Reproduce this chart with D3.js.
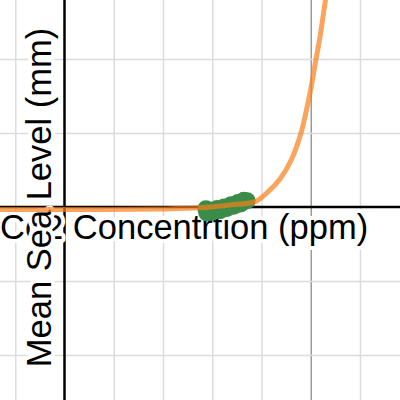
<!DOCTYPE html>
<html>
<head>
<meta charset="utf-8">
<script src="https://cdn.jsdelivr.net/npm/d3@7"></script>
<style>
  html, body { margin: 0; padding: 0; background: #fff; }
  svg { display: block; }
</style>
</head>
<body>
<div id="chart"></div>
<script>
// ---- data ----
const xTicks = [-100, 100, 200, 300, 400, 500, 600];   // gridlines (ppm)
const xMajorTicks = [500];
const yTicks = [-2000, -1000, 1000, 2000];             // gridlines (mm)

// observed CO2 concentration (ppm) and mean sea level (mm)
const pointCo2 = [287, 289, 296, 300, 310, 316, 324, 330, 338, 344, 352, 358, 364, 371];
const pointSea = [-25, -80, -40, -70, -20, -50, 0, -20, 30, 10, 60, 40, 90, 85];

// fitted curve
const curveCo2 = [-131, 72, 194, 275, 336, 387, 413, 437.6, 461.3, 480.2, 490.4, 500.5, 510.7, 518.8, 526.9, 535];
const curveSea = [-34, -34, -27, -11, 27, 72, 203, 378, 649, 1000, 1284, 1608, 2000, 2297, 2662, 3041];

const xLabel = "Co2 Concentrtion (ppm)";
const yLabel = "Mean Sea Level (mm)";

// ---- layout ----
const W = 400, H = 400;
const x0 = 64.5, xStep = 49.25;   // px of origin, px per 100 ppm
const y0 = 207, yStep = 74;       // px of origin, px per 1000 mm

const x = d3.scaleLinear()
  .domain([-x0 / xStep * 100, (W - x0) / xStep * 100])
  .range([0, W]);
const y = d3.scaleLinear()
  .domain([(y0 - H) / yStep * 1000, y0 / yStep * 1000])
  .range([H, 0]);

const svg = d3.select("#chart").append("svg")
  .attr("width", W).attr("height", H);

// grid via axes
const gx = svg.append("g")
  .attr("transform", `translate(0,${H})`)
  .call(d3.axisBottom(x).tickValues(xTicks).tickSize(-H).tickFormat(""));
gx.select(".domain").remove();
gx.selectAll(".tick line")
  .attr("stroke", d => xMajorTicks.includes(d) ? "#9a9a9a" : "#dcdcdc")
  .attr("stroke-width", 1.5);

const gy = svg.append("g")
  .call(d3.axisLeft(y).tickValues(yTicks).tickSize(-W).tickFormat(""));
gy.select(".domain").remove();
gy.selectAll(".tick line").attr("stroke", "#dcdcdc").attr("stroke-width", 1.5);

// main axes
svg.append("line")
  .attr("x1", 0).attr("x2", W).attr("y1", y(0)).attr("y2", y(0))
  .attr("stroke", "#000").attr("stroke-width", 2.5);
svg.append("line")
  .attr("x1", x(0)).attr("x2", x(0)).attr("y1", 0).attr("y2", H)
  .attr("stroke", "#000").attr("stroke-width", 2.5);

// axis labels with white halo
const font = "'Liberation Sans', Arial, Helvetica, sans-serif";
svg.append("text")
  .attr("x", 0).attr("y", 238.5)
  .attr("font-family", font).attr("font-size", 34.5)
  .attr("fill", "#000")
  .attr("stroke", "#fff").attr("stroke-width", 8).attr("stroke-linejoin", "round")
  .attr("paint-order", "stroke")
  .text(xLabel);

svg.append("text")
  .attr("transform", "translate(50.5,197.5) rotate(-90)")
  .attr("text-anchor", "middle")
  .attr("font-family", font).attr("font-size", 34.5)
  .attr("fill", "#000")
  .attr("stroke", "#fff").attr("stroke-width", 8).attr("stroke-linejoin", "round")
  .attr("paint-order", "stroke")
  .text(yLabel);

// data points
svg.append("g").selectAll("circle")
  .data(pointCo2.map((c, i) => [c, pointSea[i]]))
  .join("circle")
  .attr("cx", d => x(d[0])).attr("cy", d => y(d[1]))
  .attr("r", 8.5)
  .attr("fill", "#3a8d48");

// fitted curve
const line = d3.line()
  .x(d => x(d[0])).y(d => y(d[1]))
  .curve(d3.curveCatmullRom.alpha(0.5));
svg.append("path")
  .datum(curveCo2.map((c, i) => [c, curveSea[i]]))
  .attr("d", line)
  .attr("fill", "none")
  .attr("stroke", "#fa7e19")
  .attr("stroke-opacity", 0.7)
  .attr("stroke-width", 5)
  .attr("stroke-linecap", "round");
</script>
</body>
</html>
